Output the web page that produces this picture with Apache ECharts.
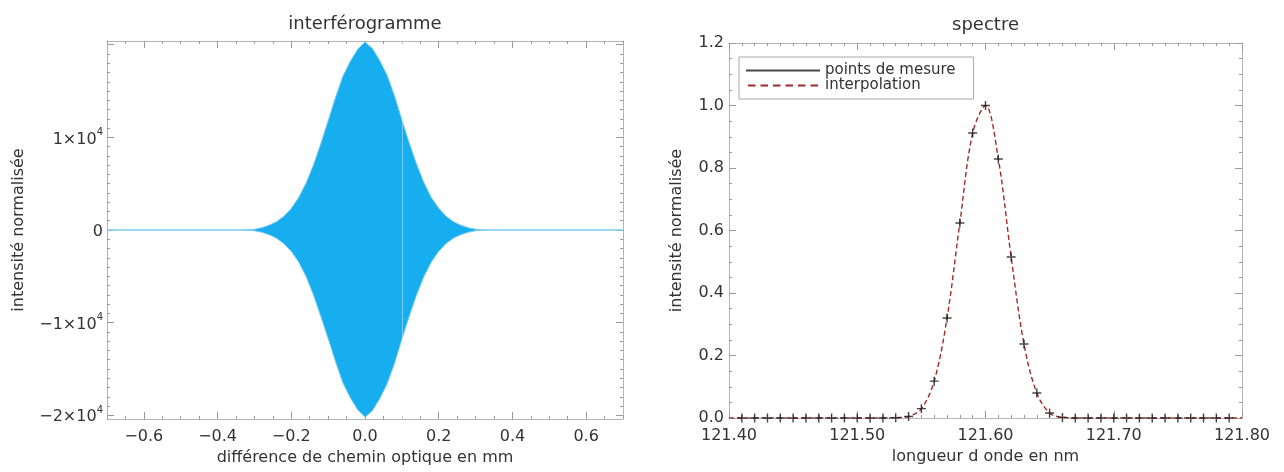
<!DOCTYPE html>
<html>
<head>
<meta charset="utf-8">
<script src="https://cdn.jsdelivr.net/npm/echarts@6/dist/echarts.min.js"></script>
<style>
html,body{margin:0;padding:0;background:#fff;}
#chart{width:1284px;height:472px;}
</style>
</head>
<body>
<div id="chart"></div>
<script>
// ---------- DATA ----------
// Interferogram: envelope of the dense oscillation (mm, normalised intensity)
const opdX = [-0.70,-0.34,-0.32,-0.30,-0.28,-0.26,-0.24,-0.22,-0.20,-0.18,-0.16,-0.14,-0.12,-0.10,-0.08,-0.06,-0.04,-0.02,0.00,0.02,0.04,0.06,0.08,0.10,0.12,0.14,0.16,0.18,0.20,0.22,0.24,0.26,0.28,0.30,0.32,0.34,0.70];
const envUpper = [0,0,30,80,250,520,900,1480,2330,3500,5050,7000,9300,11800,14300,16600,18200,19500,20300,19600,18300,16700,14500,11900,9400,7100,5100,3500,2350,1480,900,520,250,80,30,0,0];
const envLower = [0,0,-30,-80,-250,-510,-880,-1480,-2300,-3450,-5000,-7000,-9300,-11700,-14200,-16500,-18100,-19400,-20200,-19500,-18200,-16600,-14400,-11800,-9300,-7000,-5000,-3450,-2300,-1450,-880,-500,-240,-80,-30,0,0];
const gapLineX = [0.1];

// Spectrum: measured points (nm, normalised intensity)
const waveX = [121.41,121.42,121.43,121.44,121.45,121.46,121.47,121.48,121.49,121.50,121.51,121.52,121.53,121.54,121.55,121.56,121.57,121.58,121.59,121.60,121.61,121.62,121.63,121.64,121.65,121.66,121.67,121.68,121.69,121.70,121.71,121.72,121.73,121.74,121.75,121.76,121.77,121.78,121.79];
const spectreY = [0,0,0,0,0,0,0,0,0,0,0,0,0.001,0.005,0.03,0.118,0.32,0.624,0.912,1.0,0.829,0.515,0.237,0.08,0.016,0.002,0,0,0,0,0,0,0,0,0,0,0,0,0];
// Interpolation curve support points
const interpX = [121.40].concat(waveX, [121.80]);
const interpY = [0].concat(spectreY, [0]);

// Tick labels / tick positions
const leftXTicks = [-0.6,-0.4,-0.2,0.0,0.2,0.4,0.6];
const leftXMinor = [-0.7,-0.65,-0.55,-0.5,-0.45,-0.35,-0.3,-0.25,-0.15,-0.1,-0.05,0.05,0.1,0.15,0.25,0.3,0.35,0.45,0.5,0.55,0.65,0.7];
const leftYTicks = [-20000,-10000,0,10000,20000];
const leftYLabels = [-20000,-10000,0,10000];
const leftYMinor = [-19000,-18000,-17000,-16000,-15000,-14000,-13000,-12000,-11000,-9000,-8000,-7000,-6000,-5000,-4000,-3000,-2000,-1000,1000,2000,3000,4000,5000,6000,7000,8000,9000,11000,12000,13000,14000,15000,16000,17000,18000,19000];
const rightXTicks = [121.40,121.50,121.60,121.70,121.80];
const rightXMinor = [121.41,121.42,121.43,121.44,121.45,121.46,121.47,121.48,121.49,121.51,121.52,121.53,121.54,121.55,121.56,121.57,121.58,121.59,121.61,121.62,121.63,121.64,121.65,121.66,121.67,121.68,121.69,121.71,121.72,121.73,121.74,121.75,121.76,121.77,121.78,121.79];
const rightYTicks = [0,0.2,0.4,0.6,0.8,1.0,1.2];
const rightYMinor = [0.05,0.1,0.15,0.25,0.3,0.35,0.45,0.5,0.55,0.65,0.7,0.75,0.85,0.9,0.95,1.05,1.1,1.15];

// ---------- STYLE ----------
const FONT = 'DejaVu Sans';
const TXT = '#333';
const AXC = '#b4b4b4';
const TKC = '#999';

function minus(s){ return String(s).replace('-', '\u2212'); }

function axisGroup(kind, gridIndex, min, max, major, minor, labelVals, fmt, nameOpt, oppName){
  const isX = kind === 'x';
  const pos1 = isX ? 'bottom' : 'left';
  const pos2 = isX ? 'top' : 'right';
  const base = {type:'value', gridIndex, min, max, splitLine:{show:false}, scale:false};
  const list = [];
  list.push(Object.assign({}, base, {
    position: pos1,
    axisLine:{show:true, onZero:false, lineStyle:{color:AXC, width:1}},
    axisTick:{show:true, inside:true, length:7, customValues:major, lineStyle:{color:TKC}},
    axisLabel:Object.assign({show:true, customValues:labelVals, formatter:fmt, color:TXT, fontFamily:FONT, fontSize:16}, isX ? {margin:10} : {margin:5}),
  }, nameOpt || {}));
  list.push(Object.assign({}, base, {
    position: pos1,
    axisLine:{show:false, onZero:false},
    axisTick:{show:true, inside:true, length:3, customValues:minor, lineStyle:{color:TKC}},
    axisLabel:{show:false}
  }));
  list.push(Object.assign({}, base, {
    position: pos2,
    axisLine:{show:true, onZero:false, lineStyle:{color:AXC, width:1}},
    axisTick:{show:true, inside:true, length:7, customValues:major, lineStyle:{color:TKC}},
    axisLabel:{show:false}
  }, oppName || {}));
  list.push(Object.assign({}, base, {
    position: pos2,
    axisLine:{show:false, onZero:false},
    axisTick:{show:true, inside:true, length:3, customValues:minor, lineStyle:{color:TKC}},
    axisLabel:{show:false}
  }));
  return list;
}

const titleStyle = {color:'#333', fontFamily:FONT, fontSize:18};
const nameStyle = {color:TXT, fontFamily:FONT, fontSize:16};

const xAxes = [].concat(
  axisGroup('x', 0, -0.7, 0.7, leftXTicks, leftXMinor, leftXTicks,
    v => minus(Number(v).toFixed(1)),
    {name:'différence de chemin optique en mm', nameLocation:'middle', nameGap:30, nameTextStyle:nameStyle},
    {name:'interférogramme', nameLocation:'middle', nameGap:8, nameTextStyle:titleStyle}),
  axisGroup('x', 1, 121.40, 121.80, rightXTicks, rightXMinor, rightXTicks,
    v => Number(v).toFixed(2),
    {name:'longueur d onde en nm', nameLocation:'middle', nameGap:30, nameTextStyle:nameStyle},
    {name:'spectre', nameLocation:'middle', nameGap:9, nameTextStyle:titleStyle})
);
const yAxes = [].concat(
  axisGroup('y', 0, -20400, 20400, leftYTicks, leftYMinor, leftYLabels,
    v => { if (Math.abs(v) < 1e-9) return '{b|0}'; return '{b|' + minus(Math.round(v/10000)) + '×10}{s|4}'; },
    {name:'intensité normalisée', nameLocation:'middle', nameGap:80, nameTextStyle:nameStyle}),
  axisGroup('y', 1, 0, 1.2, rightYTicks, rightYMinor, rightYTicks,
    v => Number(v).toFixed(1),
    {name:'intensité normalisée', nameLocation:'middle', nameGap:44, nameTextStyle:nameStyle})
);
yAxes[0].axisLabel.rich = {
  b:{fontFamily:FONT, fontSize:16, color:TXT, lineHeight:20, verticalAlign:'bottom'},
  s:{fontFamily:FONT, fontSize:10, color:TXT, lineHeight:10, verticalAlign:'top'}
};
yAxes[0].axisLabel.margin = 4;

const plusIcon = 'path://M4.2,0h1.6v10h-1.6zM0,4.2h10v1.6h-10z';

const option = {
  backgroundColor:'#ffffff',
  animation:false,
  grid:[
    {left:107, top:41, width:516, height:378, containLabel:false},
    {left:729, top:43, width:513, height:375, containLabel:false}
  ],
  xAxis: xAxes,
  yAxis: yAxes,
  legend:{
    left:739, top:57,
    orient:'vertical',
    itemWidth:74, itemHeight:2, itemGap:0,
    padding:[6,18,6,7],
    backgroundColor:'#fff',
    borderColor:'#a8a8a8', borderWidth:1,
    textStyle:{fontFamily:FONT, fontSize:15, color:TXT, lineHeight:14},
    selectedMode:false,
    data:[
      {name:'points de mesure', icon:'path://M0,0h60v1.6h-60z'},
      {name:'interpolation', icon:'path://M0,0h6v1.6h-6zM10,0h6v1.6h-6zM20,0h6v1.6h-6zM30,0h6v1.6h-6zM40,0h6v1.6h-6zM50,0h6v1.6h-6z'}
    ]
  },
  series:[
    {
      type:'line', xAxisIndex:0, yAxisIndex:0,
      data: opdX.map((x,i)=>[x, envUpper[i]]),
      showSymbol:false, symbol:'none',
      lineStyle:{color:'#7ccbee', width:1},
      areaStyle:{color:'#16aeef', opacity:1},
      z:2,
      markLine:{
        silent:true, symbol:'none', animation:false,
        label:{show:false},
        lineStyle:{color:'rgba(255,255,255,0.4)', width:1, type:'solid'},
        data: gapLineX.map(x=>({xAxis:x}))
      }
    },
    {
      type:'line', xAxisIndex:0, yAxisIndex:0,
      data: opdX.map((x,i)=>[x, envLower[i]]),
      showSymbol:false, symbol:'none',
      lineStyle:{color:'#7ccbee', width:1},
      areaStyle:{color:'#16aeef', opacity:1},
      z:2
    },
    {
      name:'interpolation',
      type:'line', xAxisIndex:4, yAxisIndex:4,
      data: interpX.map((x,i)=>[x, interpY[i]]),
      smooth:0.35,
      showSymbol:false, symbol:'none',
      color:'#9e2a2a',
      lineStyle:{color:'#9e2a2a', width:1.4, type:[5,3]},
      z:3
    },
    {
      name:'points de mesure',
      type:'scatter', xAxisIndex:4, yAxisIndex:4,
      data: waveX.map((x,i)=>[x, spectreY[i]]),
      symbol: plusIcon, symbolSize:9,
      color:'#1a1a1a',
      itemStyle:{color:'#1a1a1a'},
      z:4
    }
  ]
};

const chart = echarts.init(document.getElementById('chart'), null, {renderer:'canvas'});
chart.setOption(option);
</script>
</body>
</html>
